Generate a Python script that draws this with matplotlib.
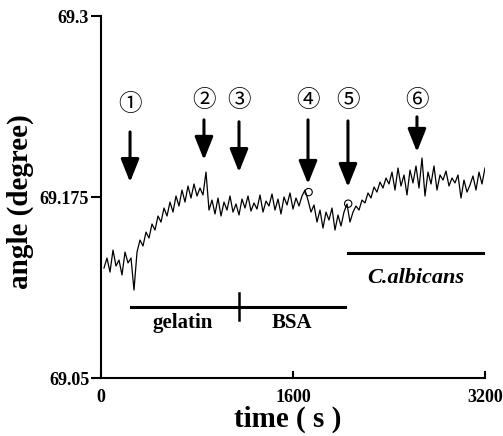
import numpy as np
import matplotlib
matplotlib.use("Agg")
import matplotlib.pyplot as plt

plt.rcParams['font.family'] = ['Liberation Serif', 'DejaVu Serif']
plt.rcParams['font.weight'] = 'bold'

# time axis (s), one reading every 25 s
time_s = np.arange(25, 3201, 25)
# angle readings (degree)
angle = [
    69.1261, 69.1330, 69.1233, 69.1385, 69.1275, 69.1316, 69.1213, 69.1371, 69.1296, 69.1330, 69.1109,
    69.1371, 69.1454, 69.1413, 69.1509, 69.1468, 69.1565, 69.1523, 69.1620, 69.1578, 69.1675,
    69.1620, 69.1716, 69.1647, 69.1758, 69.1689, 69.1799, 69.1716, 69.1827, 69.1744, 69.1841,
    69.1758, 69.1813, 69.1765, 69.1923, 69.1661,
    69.1730, 69.1634, 69.1744, 69.1620, 69.1716, 69.1661, 69.1758, 69.1647, 69.1703, 69.1627,
    69.1737, 69.1675, 69.1758, 69.1654, 69.1710, 69.1668, 69.1765, 69.1647, 69.1723, 69.1689,
    69.1772, 69.1661, 69.1737, 69.1634, 69.1751, 69.1696, 69.1779, 69.1668, 69.1744, 69.1689,
    69.1758, 69.1799, 69.1730, 69.1647,
    69.1696, 69.1578, 69.1661, 69.1537, 69.1647, 69.1592, 69.1675, 69.1523, 69.1627, 69.1551,
    69.1647, 69.1703, 69.1578,
    69.1647, 69.1689, 69.1661, 69.1730, 69.1710, 69.1779, 69.1744, 69.1820, 69.1785, 69.1854,
    69.1813, 69.1882, 69.1841,
    69.1923, 69.1799, 69.1951, 69.1827, 69.1903, 69.1765, 69.1937, 69.1848, 69.1965, 69.1813,
    69.2020, 69.1758, 69.1923, 69.1841, 69.1965, 69.1799, 69.1903, 69.1868, 69.1930, 69.1827,
    69.1882, 69.1848, 69.1903, 69.1744, 69.1868, 69.1785, 69.1834, 69.1896, 69.1799, 69.1923,
    69.1841, 69.1951,
]

# event arrows
event_labels = ['①', '②', '③', '④', '⑤', '⑥']
event_t = [242, 858, 1150, 1725, 2058, 2633]
arrow_top = [69.2200, 69.2283, 69.2270, 69.2283, 69.2276, 69.2304]
arrow_tip = [69.1854, 69.2007, 69.1923, 69.1841, 69.1820, 69.2062]
label_y = [69.2387, 69.2420, 69.2420, 69.2420, 69.2420, 69.2420]

# small open circles on the trace
circle_t = [1730, 2060]
circle_y = [69.1785, 69.1705]

# injection bars
gel_bsa_start, gel_bsa_switch, gel_bsa_end = 250, 1150, 2033
gel_bsa_y = 69.0992
cal_start, cal_end = 2058, 3200
cal_y = 69.1366

fig = plt.figure(figsize=(5.03, 4.36), dpi=100)
ax = fig.add_axes([0.2008, 0.1323, 0.7634, 0.8310])

ax.plot(time_s, angle, color='black', lw=0.9)
ax.scatter(circle_t, circle_y, s=28, facecolors='none', edgecolors='black', linewidths=0.8, zorder=3)

for lab, t, y0, y1, ly in zip(event_labels, event_t, arrow_top, arrow_tip, label_y):
    ax.annotate('', xy=(t, y1), xytext=(t, y0),
                arrowprops=dict(arrowstyle='-|>,head_width=0.4,head_length=1.0',
                                lw=2.2, color='black', mutation_scale=14,
                                shrinkA=0, shrinkB=0))
    ax.text(t, ly, lab, ha='center', va='center', fontsize=17, fontweight='normal',
            family=['Noto Sans CJK JP', 'DejaVu Sans'])

ax.plot([gel_bsa_start, gel_bsa_end], [gel_bsa_y, gel_bsa_y], color='black', lw=2.2)
ax.plot([gel_bsa_switch, gel_bsa_switch], [gel_bsa_y - 0.009, gel_bsa_y + 0.010], color='black', lw=1.8)
ax.text(683, 69.0884, 'gelatin', ha='center', va='center', fontsize=15, fontweight='bold')
ax.text(1592, 69.0884, 'BSA', ha='center', va='center', fontsize=15, fontweight='bold')

ax.plot([cal_start, cal_end], [cal_y, cal_y], color='black', lw=2.2)
ax.text(2625, 69.1190, 'C.albicans', ha='center', va='center', fontsize=16,
        fontweight='bold', style='italic')

ax.set_xlim(0, 3200)
ax.set_ylim(69.05, 69.3)
ax.set_xticks([0, 1600, 3200])
ax.set_xticklabels(['0', '1600', '3200'])
ax.set_yticks([69.05, 69.175, 69.3])
ax.set_yticklabels(['69.05', '69.175', '69.3'])

for s in ['top', 'right']:
    ax.spines[s].set_visible(False)
for s in ['left', 'bottom']:
    ax.spines[s].set_linewidth(1.5)

ax.tick_params(axis='y', direction='out', length=7, width=1.5, pad=1.5, labelsize=13)
ax.tick_params(axis='x', direction='in', length=5, width=1.5, pad=8, labelsize=13)
for lab in ax.get_xticklabels() + ax.get_yticklabels():
    lab.set_fontweight('bold')

ax.set_ylabel('angle (degree)', fontsize=21, fontweight='bold')
ax.set_xlabel('time ( s )', fontsize=21, fontweight='bold')
ax.yaxis.set_label_coords(-0.175, 0.487)
ax.xaxis.set_label_coords(0.487, -0.075)

fig.savefig('out.png', dpi=100)
